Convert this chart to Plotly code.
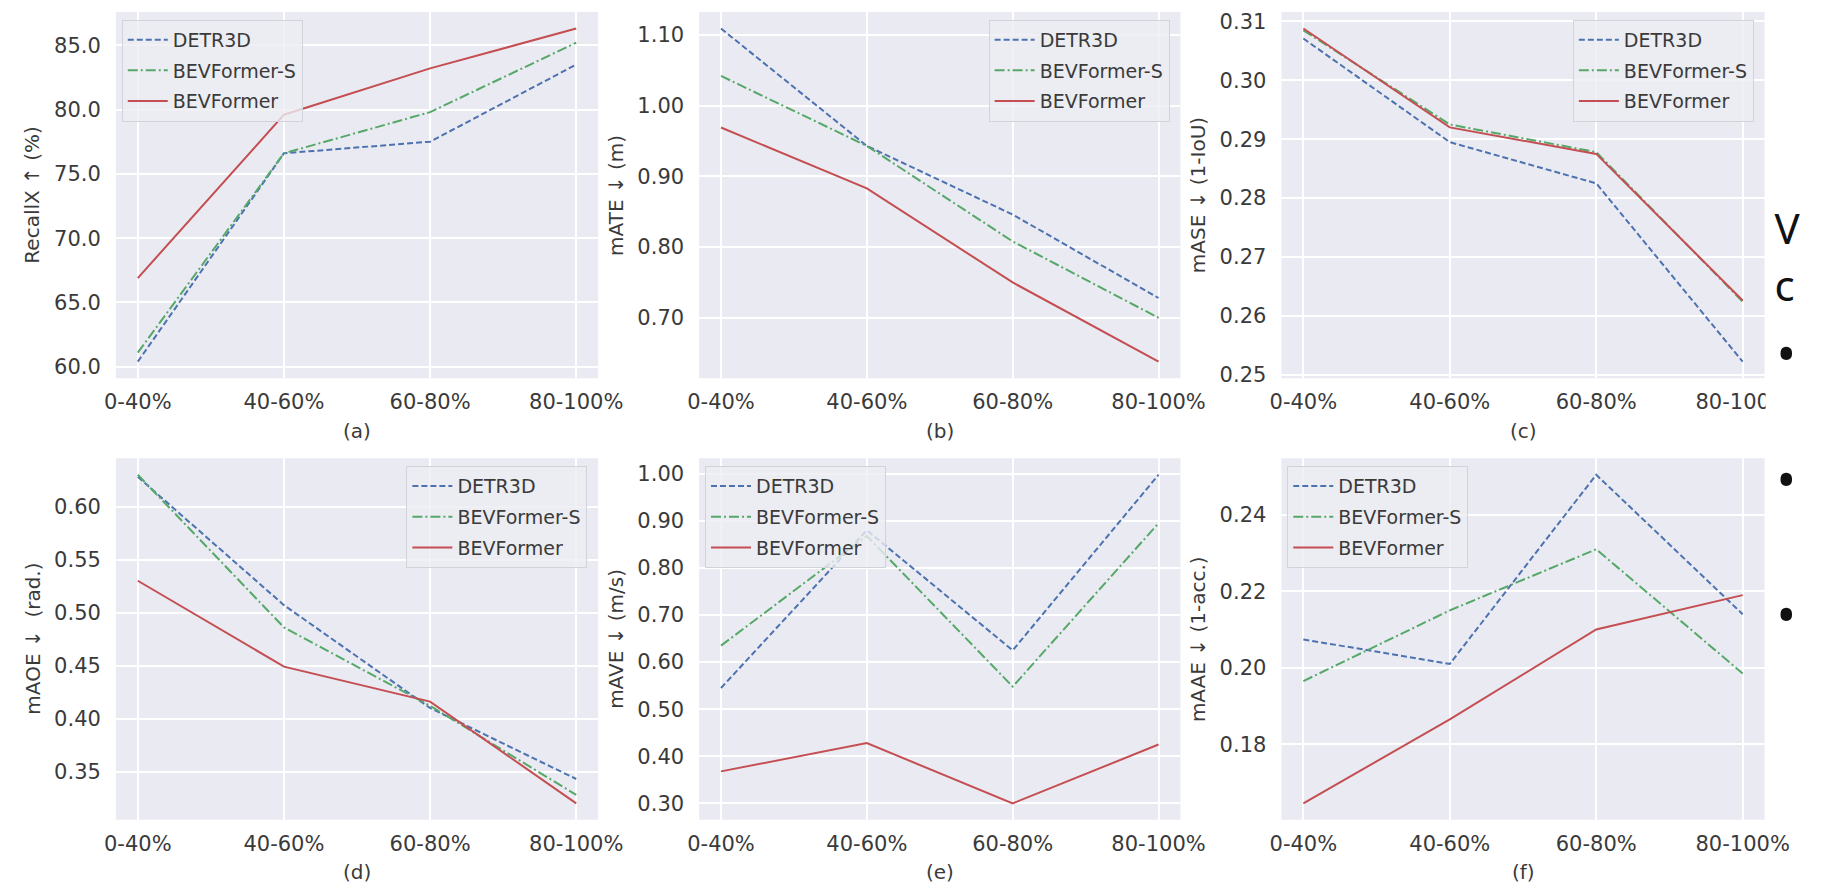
import plotly.graph_objects as go

W, H = 1821, 894

categories = ["0-40%", "40-60%", "60-80%", "80-100%"]
methods = ["DETR3D", "BEVFormer-S", "BEVFormer"]

recallx_detr3d = [60.4, 76.6, 77.5, 83.5]
recallx_bevformer_s = [61.1, 76.6, 79.8, 85.2]
recallx_bevformer = [66.9, 79.6, 83.2, 86.3]

mate_detr3d = [1.109, 0.943, 0.846, 0.728]
mate_bevformer_s = [1.042, 0.943, 0.808, 0.700]
mate_bevformer = [0.969, 0.883, 0.750, 0.638]

mase_detr3d = [0.3071, 0.2895, 0.2825, 0.2522]
mase_bevformer_s = [0.3085, 0.2925, 0.2878, 0.2624]
mase_bevformer = [0.3088, 0.2920, 0.2875, 0.2626]

maoe_detr3d = [0.628, 0.507, 0.410, 0.343]
maoe_bevformer_s = [0.630, 0.486, 0.412, 0.328]
maoe_bevformer = [0.530, 0.449, 0.416, 0.320]

mave_detr3d = [0.545, 0.880, 0.625, 0.998]
mave_bevformer_s = [0.635, 0.868, 0.548, 0.895]
mave_bevformer = [0.368, 0.428, 0.300, 0.425]

maae_detr3d = [0.2074, 0.2010, 0.2505, 0.2140]
maae_bevformer_s = [0.1965, 0.2150, 0.2310, 0.1985]
maae_bevformer = [0.1645, 0.1865, 0.2100, 0.2190]

y_titles = ["RecallX ↑ (%)", "mATE ↓ (m)", "mASE ↓ (1-IoU)",
            "mAOE ↓  (rad.)", "mAVE ↓ (m/s)", "mAAE ↓ (1-acc.)"]
captions = ["(a)", "(b)", "(c)", "(d)", "(e)", "(f)"]

yticks_a = [60, 65, 70, 75, 80, 85]
yticks_b = [0.70, 0.80, 0.90, 1.00, 1.10]
yticks_c = [0.25, 0.26, 0.27, 0.28, 0.29, 0.30, 0.31]
yticks_d = [0.35, 0.40, 0.45, 0.50, 0.55, 0.60]
yticks_e = [0.30, 0.40, 0.50, 0.60, 0.70, 0.80, 0.90, 1.00]
yticks_f = [0.18, 0.20, 0.22, 0.24]

# fragments of the slide text box beside the figure
slide_words = ["V", "c"]
slide_bullets = ["•", "•", "•"]

# seaborn "deep" palette and matplotlib-like dash patterns
colors = ["#4C72B0", "#55A868", "#C44E52"]
dashes = ["6px,3px", "10px,3px,2px,3px", "solid"]

panels = [
    ((recallx_detr3d, recallx_bevformer_s, recallx_bevformer), yticks_a, ".1f", "upper left"),
    ((mate_detr3d, mate_bevformer_s, mate_bevformer), yticks_b, ".2f", "upper right"),
    ((mase_detr3d, mase_bevformer_s, mase_bevformer), yticks_c, ".2f", "upper right"),
    ((maoe_detr3d, maoe_bevformer_s, maoe_bevformer), yticks_d, ".2f", "upper right"),
    ((mave_detr3d, mave_bevformer_s, mave_bevformer), yticks_e, ".2f", "upper left"),
    ((maae_detr3d, maae_bevformer_s, maae_bevformer), yticks_f, ".2f", "upper left"),
]

# panel boxes in pixels
col_px = [(107, 599), (702, 1193), (1296, 1789)]
row_px = [(10, 381), (462, 828)]


def px_x(x):
    return x / W


def px_y(y):
    return 1 - y / H


FONT = "DejaVu Sans"
TXT = "#3a3a3a"
BG = "#EAEAF2"

fig = go.Figure()
annotations = []
shapes = []
layout = dict(
    width=W, height=H,
    margin=dict(l=0, r=0, t=0, b=0),
    paper_bgcolor="white",
    plot_bgcolor="rgba(0,0,0,0)",
    font=dict(family=FONT, color=TXT, size=21),
)

for i, (series, yticks, fmt, corner) in enumerate(panels):
    r, c = divmod(i, 3)
    x0, x1 = col_px[c]
    y0, y1 = row_px[r]
    n = "" if i == 0 else str(i + 1)
    lg = "legend" + n

    for k, vals in enumerate(series):
        fig.add_trace(go.Scatter(
            x=categories, y=vals, mode="lines", name=methods[k],
            line=dict(color=colors[k], width=2, dash=dashes[k]),
            xaxis="x" + n, yaxis="y" + n, legend=lg,
            legendgroup=f"p{i}s{k}",
        ))

    allv = [v for s in series for v in s]
    lo, hi = min(allv), max(allv)
    pad = 0.05 * (hi - lo)

    layout["xaxis" + n] = dict(
        domain=[px_x(x0), px_x(x1)], anchor="y" + n, type="category",
        range=[-0.15, 3.15], showgrid=True, gridcolor="white", gridwidth=1.5,
        zeroline=False, showline=False, ticks="", ticklabelstandoff=9,
        tickfont=dict(size=21, color=TXT, family=FONT),
    )
    layout["yaxis" + n] = dict(
        domain=[px_y(y1), px_y(y0)], anchor="x" + n,
        range=[lo - pad, hi + pad], tickvals=yticks, tickformat=fmt,
        showgrid=True, gridcolor="white", gridwidth=1.5,
        zeroline=False, showline=False, ticks="", ticklabelstandoff=14,
        tickfont=dict(size=21, color=TXT, family=FONT),
    )

    # panel background, beneath the grid
    shapes.append(dict(
        type="rect", xref=f"x{n} domain", yref=f"y{n} domain", layer="below",
        x0=0, x1=1, y0=0, y1=1, fillcolor=BG, line=dict(width=0),
    ))

    # legend placed inside the panel
    if corner == "upper left":
        lx, xa = px_x(x0 + 6), "left"
    else:
        lx, xa = px_x(x1 - 11), "right"
    layout[lg] = dict(
        x=lx, xanchor=xa, y=px_y(y0 + 8), yanchor="top",
        bgcolor="rgba(236,236,243,0.8)", bordercolor="#d2d2da", borderwidth=1,
        font=dict(size=19, color=TXT, family=FONT), tracegroupgap=3,
        itemwidth=40,
    )

    # y-axis label
    annotations.append(dict(
        text=y_titles[i], textangle=-90, showarrow=False,
        xref="paper", yref="paper", x=px_x(x0 - 85), y=px_y((y0 + y1) / 2),
        xanchor="center", yanchor="middle",
        font=dict(size=20, color=TXT, family=FONT),
    ))
    # panel caption below the x tick labels
    annotations.append(dict(
        text=captions[i], showarrow=False,
        xref="paper", yref="paper", x=px_x((x0 + x1) / 2), y=px_y(y1 + 53),
        xanchor="center", yanchor="middle",
        font=dict(size=20, color=TXT, family=FONT),
    ))

# slide text drawn on a hidden full-page pixel axis
layout["xaxis7"] = dict(domain=[0, 1], range=[0, W], visible=False,
                        anchor="y7", fixedrange=True)
layout["yaxis7"] = dict(domain=[0, 1], range=[H, 0], visible=False,
                        anchor="x7", fixedrange=True)
fig.add_trace(go.Scatter(
    x=[1799, 1799, 1811, 1811, 1811],
    y=[234, 292, 362, 490, 627],
    text=slide_words + slide_bullets,
    mode="text",
    textposition=["middle right", "middle right",
                  "middle center", "middle center", "middle center"],
    textfont=dict(family="Noto Sans", size=[42, 42, 52, 52, 52],
                  color="#111111"),
    xaxis="x7", yaxis="y7", showlegend=False, cliponaxis=False,
    hoverinfo="skip",
))

# white slide box hiding the tail of the last tick label of panel (c)
shapes.append(dict(
    type="rect", xref="paper", yref="paper", layer="above",
    x0=px_x(1790), x1=1.01, y0=px_y(428), y1=px_y(390),
    fillcolor="white", line=dict(width=0),
))

layout["annotations"] = annotations
layout["shapes"] = shapes

fig.update_layout(**layout)
fig.write_html("out.html")
